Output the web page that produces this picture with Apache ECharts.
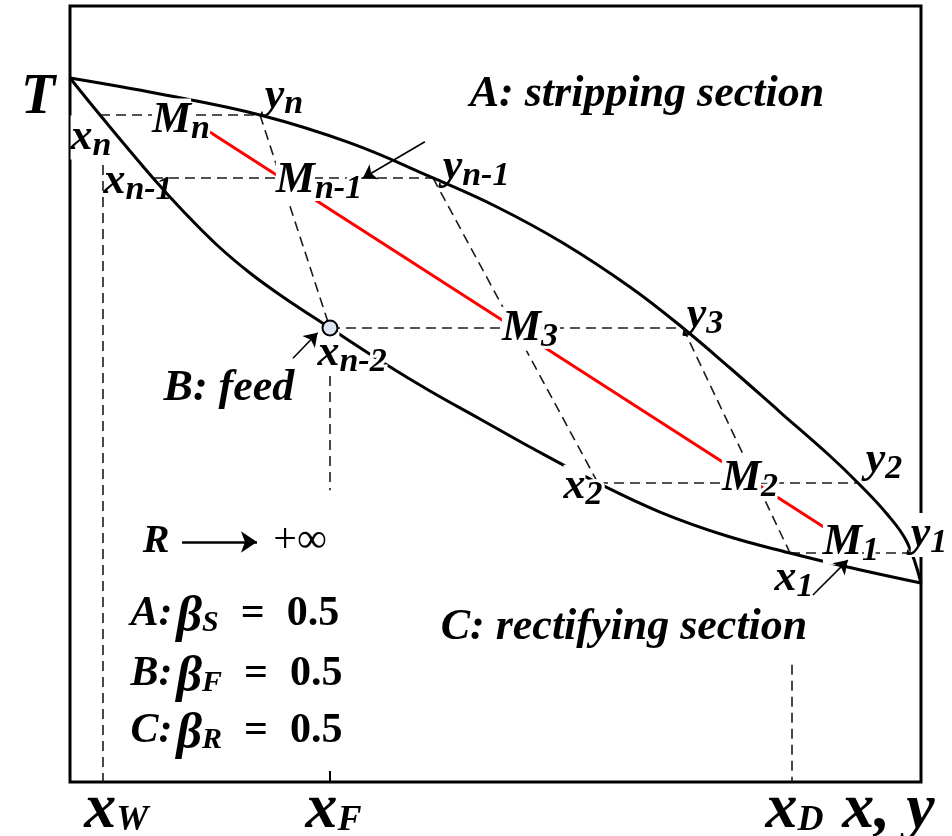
<!DOCTYPE html>
<html>
<head>
<meta charset="utf-8">
<script src="https://cdn.jsdelivr.net/npm/echarts@6/dist/echarts.min.js"></script>
<style>
  html, body { margin: 0; padding: 0; background: #fff; }
  #chart { width: 952px; height: 836px; }
</style>
</head>
<body>
<div id="chart"></div>
<script>
// ---- T-x-y phase diagram: composition (0..1) against temperature (0..100) ----

// Bubble-point (liquid) curve
const liquidX = [0, 0.0353, 0.0975, 0.1328, 0.1727, 0.2115, 0.2503, 0.3055, 0.3725, 0.4230, 0.4818, 0.5405, 0.6204, 0.6933, 0.7720, 0.8461, 0.9083, 1.0];
const liquidT = [90.72, 85.95, 77.84, 73.58, 69.20, 65.59, 62.50, 58.51, 53.74, 50.39, 46.78, 43.17, 38.53, 34.79, 31.70, 29.51, 27.84, 25.64];

// Dew-point (vapour) curve
const vaporY = [0, 0.1058, 0.2233, 0.3290, 0.4266, 0.5018, 0.5793, 0.6580, 0.7203, 0.7756, 0.8343, 0.8931, 0.9260, 0.9600, 0.9835, 1.0];
const vaporT = [90.72, 88.66, 85.95, 82.35, 77.84, 74.10, 69.46, 63.79, 58.51, 53.35, 47.68, 42.01, 38.53, 34.54, 30.93, 25.64];

// Horizontal tie lines of the stages n, n-1, n-2 (feed), 2, 1
const tieT     = [85.95, 77.84, 58.51, 38.53, 29.51];
const tieFromX = [0.0353, 0.0975, 0.3055, 0.6204, 0.8461];
const tieToY   = [0.2233, 0.4266, 0.7203, 0.9260, 0.9876];

// Stepping lines: from a vapour point down to a liquid point
const stepTopY    = [0.2233, 0.4266, 0.7203];
const stepTopT    = [85.95, 77.84, 58.51];
const stepBottomX = [0.3055, 0.6204, 0.8461];
const stepBottomT = [58.51, 38.53, 29.51];

// Characteristic compositions
const xW = 0.039, xF = 0.3055, xD = 0.848;
// Vertical guides: x, top T, bottom T
const guideX    = [xW, xF, xD];
const guideTop  = [79.5, 58.51, 15.1];
const guideBase = [0, 37.6, 0];

// Line through the mid-points M_n ... M_1
const midLineX = [0.161, 0.8907];
const midLineT = [84.0, 32.5];

// Feed point on the bubble curve
const feedPoint = [0.3055, 58.51];

// Pointer arrows (from -> to)
const arrowFrom = [[0.417, 82.5], [0.262, 54.6], [0.873, 24.1]];
const arrowTo   = [[0.344, 77.8], [0.291, 57.9], [0.914, 28.6]];
// "R -> +inf" arrow
const rArrow = [[0.1316, 30.93], [0.2197, 30.93]];

// ---- text ----
const annotationText = {
  T:    '{T|T}',
  xn:   '{a|x}{b|n}',
  Mn:   '{a|M}{b|n}',
  yn:   '{a|y}{b|n}',
  xn1:  '{a|x}{b|n-1}',
  Mn1:  '{a|M}{b|n-1}',
  yn1:  '{a|y}{b|n-1}',
  M3:   '{a|M}{b|3}',
  y3:   '{a|y}{b|3}',
  xn2:  '{a|x}{b|n-2}',
  x2:   '{a|x}{b|2}',
  M2:   '{a|M}{b|2}',
  y2:   '{a|y}{b|2}',
  M1:   '{a|M}{b|1}',
  y1:   '{a|y}{b|1}',
  x1:   '{a|x}{b|1}',
  secA: '{big|A: stripping section}',
  secB: '{big|B: feed}',
  secC: '{big|C: rectifying section}',
  R:    '{R|R}',
  inf:  '{inf|+∞}',
  bS:   '{k|A:}{kb|β}{q|S}{eq|=}{num|0.5}',
  bF:   '{k|B:}{kb|β}{q|F}{eq|=}{num|0.5}',
  bR:   '{k|C:}{kb|β}{q|R}{eq|=}{num|0.5}',
  xW:   '{X|x}{x|W}',
  xF:   '{X|x}{x|F}',
  xD:   '{X|x}{x|D}',
  xy:   '{X|x, y}'
};

// Anchor of each annotation in (composition, temperature)
const annotationAt = {
  T: [-0.0376, 88.14], xn: [0.0247, 84.2], Mn: [0.1304, 86.4], yn: [0.2515, 89.54],
  xn1: [0.0799, 78.5], Mn1: [0.2926, 78.65], yn1: [0.4771, 80.32],
  M3: [0.5405, 59.57], y3: [0.7462, 61.25], xn2: [0.3314, 56.36],
  x2: [0.6028, 39.2], M2: [0.7990, 40.25], y2: [0.9565, 42.56],
  M1: [0.9177, 32.0], y1: [1.0094, 33.0], x1: [0.8508, 27.36],
  secA: [0.678, 88.54], secB: [0.1868, 50.64], secC: [0.651, 19.85],
  R: [0.1011, 31.0], inf: [0.2703, 31.0],
  bS: [0.0705, 22.41], bF: [0.0705, 14.68], bR: [0.0705, 7.33],
  xW: [0.0545, -2.25], xF: [0.3096, -2.25], xD: [0.8514, -2.25], xy: [0.9618, -2.3]
};
const leftAligned = new Set(['bS', 'bF', 'bR']);
// Labels that mask the lines running underneath them
const whiteBehind = new Set(['xn', 'Mn', 'Mn1', 'M3', 'xn2', 'x2', 'M2', 'M1', 'y1']);

// ---- styles ----
const SERIF = '"Liberation Serif", "Times New Roman", Times, serif';
function tok(size, lineHeight, extra) {
  return Object.assign({
    fontFamily: SERIF, fontStyle: 'italic', fontWeight: 'bold',
    fontSize: size, lineHeight: lineHeight, color: '#000', verticalAlign: 'top'
  }, extra || {});
}
const rich = {
  a:   tok(44, 26),
  b:   tok(34, 22, { padding: [13.4, 0, 0, 0] }),
  // masked variants: a white box behind the main glyph, a white halo round the subscript
  A:   tok(44, 26, { backgroundColor: '#fff' }),
  B:   tok(34, 22, { padding: [13.4, 0, 0, 0], textBorderColor: '#fff', textBorderWidth: 6 }),
  big: tok(44, 44),
  T:   tok(56, 56),
  X:   tok(64, 42),
  x:   tok(36, 24, { padding: [24.6, 0, 0, 0] }),
  k:   tok(42, 30),
  kb:  tok(50, 30, { padding: [0, 0, 0, 4] }),
  q:   tok(30, 20, { padding: [15.1, 0, 0, 0] }),
  eq:  tok(42, 30, { fontStyle: 'normal', padding: [0, 0, 0, 22] }),
  num: tok(42, 30, { fontStyle: 'normal', padding: [0, 0, 0, 22] }),
  R:   tok(40, 40),
  inf: tok(42, 42, { fontStyle: 'normal', fontWeight: 'normal' })
};

const zip = (a, b) => a.map((v, i) => [v, b[i]]);

const dashedSegments = [];
tieT.forEach((t, i) => dashedSegments.push({ coords: [[tieFromX[i], t], [tieToY[i], t]] }));
stepTopY.forEach((y, i) => dashedSegments.push({ coords: [[y, stepTopT[i]], [stepBottomX[i], stepBottomT[i]]] }));
guideX.forEach((x, i) => dashedSegments.push({ coords: [[x, guideTop[i]], [x, guideBase[i]]] }));

const labelData = Object.keys(annotationText).map(key => {
  let text = annotationText[key];
  if (whiteBehind.has(key)) text = text.replace('{a|', '{A|').replace('{b|', '{B|');
  return {
    value: annotationAt[key],
    label: {
      show: true,
      formatter: text,
      position: leftAligned.has(key) ? 'right' : 'inside',
      distance: 0,
      opacity: 1,
      rich: rich
    }
  };
});

const chart = echarts.init(document.getElementById('chart'), null, { renderer: 'canvas' });
chart.setOption({
  animation: false,
  backgroundColor: '#fff',
  grid: {
    left: 70, right: 31, top: 6, bottom: 54,
    show: true, borderColor: '#000', borderWidth: 3,
    outerBoundsMode: 'none'
  },
  xAxis: {
    type: 'value', min: 0, max: 1,
    axisLine: { show: false },
    axisLabel: { show: false },
    splitLine: { show: false },
    axisTick: { show: true, inside: true, length: 11, customValues: [xF], lineStyle: { color: '#000', width: 2 } }
  },
  yAxis: {
    type: 'value', min: 0, max: 100,
    axisLine: { show: false }, axisLabel: { show: false },
    axisTick: { show: false }, splitLine: { show: false }
  },
  series: [
    {
      type: 'lines', coordinateSystem: 'cartesian2d', silent: true, z: 2,
      lineStyle: { color: '#1a1a1a', width: 1.6, type: [10, 6], opacity: 1 },
      data: dashedSegments
    },
    {
      type: 'line', data: zip(liquidX, liquidT), smooth: 0.4,
      showSymbol: false, silent: true, z: 3,
      lineStyle: { color: '#000', width: 3 }
    },
    {
      type: 'line', data: zip(vaporY, vaporT), smooth: 0.4,
      showSymbol: false, silent: true, z: 3,
      lineStyle: { color: '#000', width: 3 }
    },
    {
      type: 'line', data: zip(midLineX, midLineT), showSymbol: false, silent: true, z: 4,
      lineStyle: { color: '#ff0000', width: 3 }
    },
    {
      type: 'scatter', data: labelData, symbolSize: 1, clip: false, silent: true, z: 10,
      itemStyle: { color: 'rgba(0,0,0,0)', opacity: 1 }
    },
    {
      type: 'lines', coordinateSystem: 'cartesian2d', silent: true, z: 11,
      symbol: ['none', 'arrow'], symbolSize: 13,
      lineStyle: { color: '#000', width: 1.6, opacity: 1 },
      data: arrowFrom.map((p, i) => ({ coords: [p, arrowTo[i]] }))
    },
    {
      type: 'lines', coordinateSystem: 'cartesian2d', silent: true, z: 11,
      symbol: ['none', 'arrow'], symbolSize: 16,
      lineStyle: { color: '#000', width: 2.5, opacity: 1 },
      data: [{ coords: rArrow }]
    },
    {
      type: 'scatter', data: [feedPoint], symbol: 'circle', symbolSize: 15, silent: true, z: 12,
      itemStyle: { color: '#dde5f2', borderColor: '#000', borderWidth: 2, opacity: 1 }
    }
  ]
});
</script>
</body>
</html>
